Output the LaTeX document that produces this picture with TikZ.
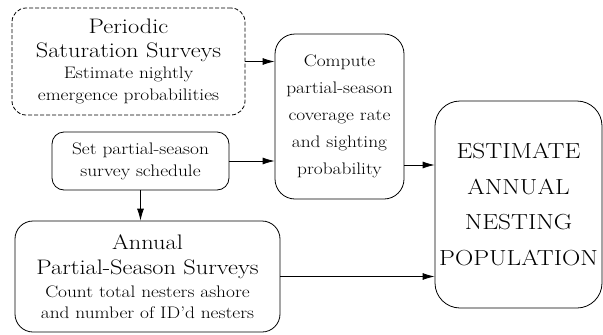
\documentclass[tikz,border=0pt]{standalone}
\usetikzlibrary{arrows.meta}

\newcommand{\hdfont}{\fontsize{21}{24}\selectfont}
\newcommand{\bdfont}{\fontsize{16.7}{18}\selectfont}
\newcommand{\bigfnt}{\fontsize{21.8}{35.5}\selectfont}
% texto ensanchado
\newcommand{\wl}[1]{\scalebox{1.16}[1]{#1}}

\tikzset{
    box/.style={
        draw=black,
        line width=0.8pt,
        rectangle,
        align=center,
        inner sep=0pt,
        font=\bdfont
    },
    arr/.style={
        line width=0.8pt,
        -{Latex[length=12pt,width=7pt]}
    }
}

\begin{document}
\begin{tikzpicture}[x=1pt,y=-1pt]

    \useasboundingbox (0,0) rectangle (603,335);

    % Cajas
    \node[box, dash pattern=on 4pt off 2pt, rounded corners=14pt,
          minimum width=233pt, minimum height=107pt] (sat) at (128.5,61.5)
        {{\hdfont\wl{Periodic}}\\[6pt]{\hdfont\wl{Saturation Surveys}}\\[3pt]
         \wl{Estimate nightly}\\[4pt]\wl{emergence probabilities}};
    \node[box, rounded corners=12pt,
          minimum width=177pt, minimum height=58pt] (sched) at (140.5,161)
        {\wl{Set partial-season}\\[4pt]\wl{survey schedule}};
    \node[box, rounded corners=18pt,
          minimum width=265pt, minimum height=111pt] (annual) at (147.5,276.5)
        {{\hdfont\wl{Annual}}\\[7pt]{\hdfont\wl{Partial-Season Surveys}}\\[5pt]
         \wl{Count total nesters ashore}\\[3pt]\wl{and number of ID'd nesters}};
    \node[box, rounded corners=20pt,
          minimum width=129pt, minimum height=165pt] (comp) at (339.5,116.5)
        {\wl{Compute}\\[9pt]\wl{partial-season}\\[9pt]\wl{coverage rate}\\[9pt]\wl{and sighting}\\[9pt]\wl{probability}};
    \node[box, rounded corners=25pt, font=\bigfnt, inner xsep=-4pt,
          minimum width=167pt, minimum height=207pt] (est) at (518.5,204.5)
        {\wl{ESTIMATE}\\\wl{ANNUAL}\\\wl{NESTING}\\\wl{POPULATION}};

    % Flechas
    \draw[arr] (sat.east) -- (sat.east -| comp.west);
    \draw[arr] (sched.east) -- (sched.east -| comp.west);
    \draw[arr] (sched.south) -- (sched.south |- annual.north);
    \draw[arr] ([yshift=-48.5pt]comp.east) -- ([yshift=-48.5pt]comp.east -| est.west);
    \draw[arr] (annual.east) -- (annual.east -| est.west);

\end{tikzpicture}
\end{document}
